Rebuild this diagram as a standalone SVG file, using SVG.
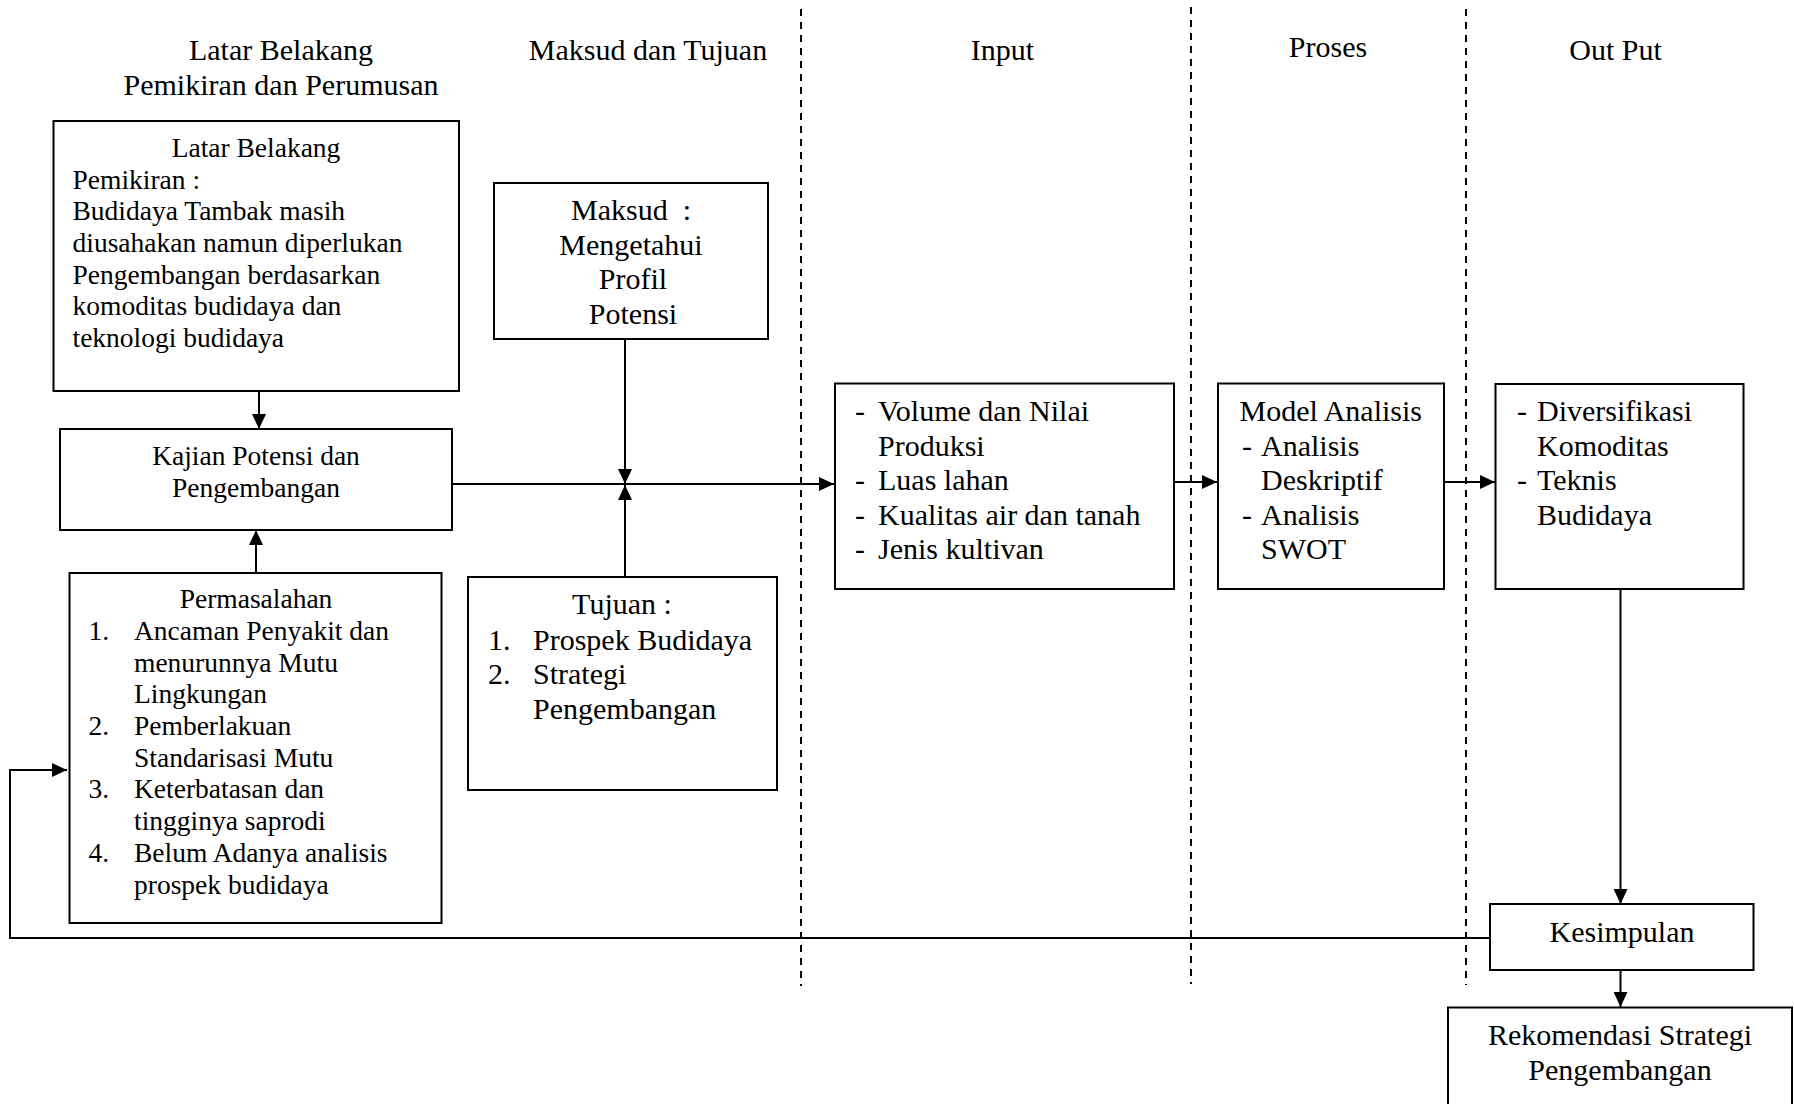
<svg xmlns="http://www.w3.org/2000/svg" width="1794" height="1104" viewBox="0 0 1794 1104">
<style>
text{font-family:"Liberation Serif","Times New Roman",serif;fill:#000}
.s{font-size:27.5px}
.b{font-size:30px}
.c{text-anchor:middle}
.box{fill:#fff;stroke:#000;stroke-width:2}
.ln{fill:none;stroke:#000;stroke-width:2}
.dash{fill:none;stroke:#000;stroke-width:2;stroke-dasharray:7 6}
</style>
<defs>
<marker id="ah" markerUnits="userSpaceOnUse" markerWidth="16" markerHeight="14" refX="15" refY="7" orient="auto">
<path d="M0,0 L15,7 L0,14 z" fill="#000"/>
</marker>
</defs>
<rect width="1794" height="1104" fill="#fff"/>
<g id="dividers">
<line class="dash" x1="801" y1="9" x2="801" y2="986"/>
<line class="dash" x1="1191" y1="7" x2="1191" y2="984"/>
<line class="dash" x1="1466" y1="9" x2="1466" y2="985"/>
</g>
<g id="headers" class="b">
<text class="c" x="281" y="60">Latar Belakang</text>
<text class="c" x="281" y="94.5">Pemikiran dan Perumusan</text>
<text class="c" x="648" y="60">Maksud dan Tujuan</text>
<text class="c" x="1002.5" y="60">Input</text>
<text class="c" x="1328" y="57">Proses</text>
<text class="c" x="1615.5" y="60">Out Put</text>
</g>
<g id="connectors">
<line class="ln" x1="259" y1="391" x2="259" y2="429" marker-end="url(#ah)"/>
<line class="ln" x1="256" y1="573" x2="256" y2="530" marker-end="url(#ah)"/>
<line class="ln" x1="452" y1="484" x2="834" y2="484" marker-end="url(#ah)"/>
<line class="ln" x1="625" y1="339" x2="625" y2="484" marker-end="url(#ah)"/>
<line class="ln" x1="625" y1="577" x2="625" y2="485" marker-end="url(#ah)"/>
<line class="ln" x1="1174" y1="482" x2="1217" y2="482" marker-end="url(#ah)"/>
<line class="ln" x1="1444" y1="482" x2="1495" y2="482" marker-end="url(#ah)"/>
<line class="ln" x1="1620.5" y1="589" x2="1620.5" y2="904" marker-end="url(#ah)"/>
<line class="ln" x1="1620.5" y1="970" x2="1620.5" y2="1007" marker-end="url(#ah)"/>
<polyline class="ln" points="1490,938 10,938 10,770 67,770" marker-end="url(#ah)"/>
</g>
<g id="latar">
<rect class="box" x="53.5" y="121" width="405.5" height="270"/>
<g class="s">
<text class="c" x="256" y="157">Latar Belakang</text>
<text x="72.5" y="188.5">Pemikiran :</text>
<text x="72.5" y="220">Budidaya Tambak masih</text>
<text x="72.5" y="252">diusahakan namun diperlukan</text>
<text x="72.5" y="283.5">Pengembangan berdasarkan</text>
<text x="72.5" y="315">komoditas budidaya dan</text>
<text x="72.5" y="347">teknologi budidaya</text>
</g>
</g>
<g id="kajian">
<rect class="box" x="60" y="429" width="392" height="101"/>
<g class="s">
<text class="c" x="256" y="465">Kajian Potensi dan</text>
<text class="c" x="256" y="496.5">Pengembangan</text>
</g>
</g>
<g id="permasalahan">
<rect class="box" x="69.5" y="573" width="372" height="350"/>
<g class="s">
<text class="c" x="256" y="608">Permasalahan</text>
<text x="88.5" y="640">1.</text><text x="134" y="640">Ancaman Penyakit dan</text>
<text x="134" y="671.5">menurunnya Mutu</text>
<text x="134" y="703">Lingkungan</text>
<text x="88.5" y="735">2.</text><text x="134" y="735">Pemberlakuan</text>
<text x="134" y="766.5">Standarisasi Mutu</text>
<text x="88.5" y="798">3.</text><text x="134" y="798">Keterbatasan dan</text>
<text x="134" y="830">tingginya saprodi</text>
<text x="88.5" y="862">4.</text><text x="134" y="862">Belum Adanya analisis</text>
<text x="134" y="893.5">prospek budidaya</text>
</g>
</g>
<g id="maksud">
<rect class="box" x="494" y="183" width="274" height="156"/>
<g class="b">
<text class="c" x="631" y="220">Maksud&#160; :</text>
<text class="c" x="631" y="254.5">Mengetahui</text>
<text class="c" x="633" y="289">Profil</text>
<text class="c" x="633" y="323.5">Potensi</text>
</g>
</g>
<g id="tujuan">
<rect class="box" x="468" y="577" width="309" height="213"/>
<g class="b">
<text class="c" x="622" y="614">Tujuan :</text>
<text x="488" y="649.5">1.</text><text x="533" y="649.5">Prospek Budidaya</text>
<text x="488" y="684">2.</text><text x="533" y="684">Strategi</text>
<text x="533" y="718.5">Pengembangan</text>
</g>
</g>
<g id="input">
<rect class="box" x="835" y="383.5" width="339" height="205.5"/>
<g class="b">
<text x="855" y="421">-</text><text x="878" y="421">Volume dan Nilai</text>
<text x="878" y="455.5">Produksi</text>
<text x="855" y="490">-</text><text x="878" y="490">Luas lahan</text>
<text x="855" y="524.5">-</text><text x="878" y="524.5">Kualitas air dan tanah</text>
<text x="855" y="559">-</text><text x="878" y="559">Jenis kultivan</text>
</g>
</g>
<g id="model">
<rect class="box" x="1218" y="383.5" width="226" height="205.5"/>
<g class="b">
<text x="1239.5" y="421">Model Analisis</text>
<text x="1242" y="455.5">-</text><text x="1261" y="455.5">Analisis</text>
<text x="1261" y="490">Deskriptif</text>
<text x="1242" y="524.5">-</text><text x="1261" y="524.5">Analisis</text>
<text x="1261" y="559">SWOT</text>
</g>
</g>
<g id="output">
<rect class="box" x="1495.5" y="384" width="248" height="205"/>
<g class="b">
<text x="1517" y="421">-</text><text x="1537" y="421">Diversifikasi</text>
<text x="1537" y="455.5">Komoditas</text>
<text x="1517" y="490">-</text><text x="1537" y="490">Teknis</text>
<text x="1537" y="524.5">Budidaya</text>
</g>
</g>
<g id="kesimpulan">
<rect class="box" x="1490" y="904" width="263.5" height="66"/>
<text class="b c" x="1622" y="942">Kesimpulan</text>
</g>
<g id="rekomendasi">
<rect class="box" x="1448" y="1007.5" width="344" height="120"/>
<g class="b">
<text class="c" x="1620" y="1045">Rekomendasi Strategi</text>
<text class="c" x="1620" y="1080">Pengembangan</text>
</g>
</g>
</svg>
